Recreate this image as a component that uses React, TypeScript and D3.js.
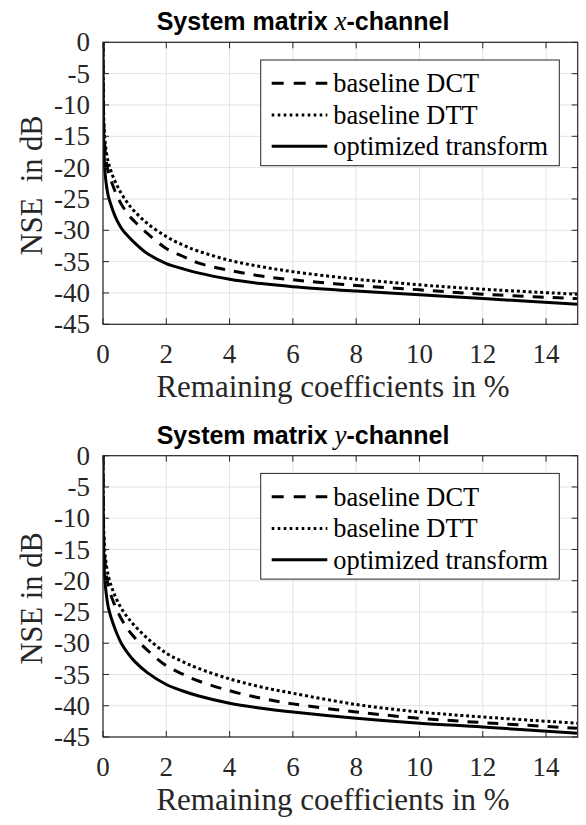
import React from "react";
import * as d3 from "d3";

// ---- data ----
const xTicks = [0, 2, 4, 6, 8, 10, 12, 14];
const yTicks = [0, -5, -10, -15, -20, -25, -30, -35, -40, -45];
const coeffPercent = [0, 0.01, 0.03, 0.06, 0.1, 0.17, 0.25, 0.33, 0.45, 0.6, 0.8, 1.0, 1.4, 2, 2.5, 3, 4, 5, 6, 8, 10, 12, 15];

const xChanDCT = [0, -9, -14, -16.8, -18.8, -20.8, -22.0, -23.1, -24.6, -26.0, -27.5, -28.6, -30.5, -32.9, -34.1, -35.2, -36.4, -37.3, -37.9, -38.8, -39.5, -40.2, -40.9];
const xChanDTT = [0, -8, -13, -15.5, -17.3, -19.2, -20.5, -21.6, -22.9, -24.3, -25.8, -27.0, -28.9, -31.0, -32.3, -33.3, -34.8, -35.8, -36.6, -37.8, -38.7, -39.4, -40.2];
const xChanOpt = [0, -11, -17, -20.5, -22.5, -24.6, -25.9, -27.1, -28.5, -29.8, -31.0, -32.0, -33.7, -35.3, -36.1, -36.8, -37.8, -38.5, -39.0, -39.7, -40.3, -40.9, -41.8];

const yChanDCT = [0, -9, -14, -16.8, -18.8, -20.9, -22.3, -23.4, -24.8, -26.3, -27.9, -29.1, -31.1, -33.6, -34.9, -36.0, -37.6, -38.8, -39.7, -41.0, -42.0, -42.7, -43.6];
const yChanDTT = [0, -8, -13, -15.5, -17.3, -19.3, -20.7, -21.8, -23.2, -24.6, -26.0, -27.2, -29.2, -31.6, -32.9, -34.0, -35.7, -37.0, -38.0, -39.8, -41.0, -41.8, -42.8];
const yChanOpt = [0, -11, -17, -20, -22, -24.3, -25.8, -27.0, -28.6, -30.2, -31.7, -32.9, -34.7, -36.6, -37.6, -38.4, -39.6, -40.4, -41.0, -42.0, -42.8, -43.4, -44.4];

const seriesNames = ["baseline DCT", "baseline DTT", "optimized transform"];
const panelTitles = ["x", "y"];
const yLabels = ["NSE  in dB", "NSE in dB"];
const xLabel = "Remaining coefficients in %";

// ---- styling ----
const W = 586;
const H = 825;
const LEFT = 103;
const RIGHT = 577.7;
const AXIS = "#262626";
const GRID = "#e3e3e3";
const SERIF = "Liberation Serif";
const SANS = "Liberation Sans";
const dashes = ["11 9", "3 2.8", ""];
const legendDashes = ["12 10", "2.6 3.4", ""];

type PanelProps = {
  top: number;
  bottom: number;
  title: string;
  ylabel: string;
  data: number[][];
  idx: number;
};

function Panel({ top, bottom, title, ylabel, data, idx }: PanelProps) {
  const x = d3.scaleLinear().domain([0, 15]).range([LEFT, RIGHT]);
  const y = d3.scaleLinear().domain([0, -45]).range([top, bottom]);
  const line = d3
    .line<[number, number]>()
    .x((d) => x(d[0]))
    .y((d) => y(d[1]))
    .curve(d3.curveCatmullRom.alpha(0.5));
  const clipId = `clip${idx}`;
  const tick = 6;
  const legL = 260.7;
  const legT = top + 17.7;
  const legW = 298.6;
  const legH = 105.7;
  const rowY = [23.3, 55, 86.3];
  return (
    <g>
      <defs>
        <clipPath id={clipId}>
          <rect x={LEFT} y={top} width={RIGHT - LEFT} height={bottom - top} />
        </clipPath>
      </defs>
      <rect x={LEFT} y={top} width={RIGHT - LEFT} height={bottom - top} fill="#fff" />
      {/* grid */}
      {xTicks.map((t) => (
        <line key={"gx" + t} x1={x(t)} x2={x(t)} y1={top} y2={bottom} stroke={GRID} strokeWidth={1} />
      ))}
      {yTicks.map((t) => (
        <line key={"gy" + t} x1={LEFT} x2={RIGHT} y1={y(t)} y2={y(t)} stroke={GRID} strokeWidth={1} />
      ))}
      {/* curves */}
      <g clipPath={`url(#${clipId})`}>
        {data.map((vals, i) => (
          <path
            key={"s" + i}
            d={line(coeffPercent.map((c, k) => [c, vals[k]] as [number, number])) || ""}
            fill="none"
            stroke="#000"
            strokeWidth={3}
            strokeDasharray={dashes[i] || undefined}
          />
        ))}
      </g>
      {/* box */}
      <rect x={LEFT} y={top} width={RIGHT - LEFT} height={bottom - top} fill="none" stroke={AXIS} strokeWidth={1.2} />
      {/* ticks */}
      {xTicks.map((t) => (
        <g key={"tx" + t}>
          <line x1={x(t)} x2={x(t)} y1={bottom} y2={bottom - tick} stroke={AXIS} strokeWidth={1} />
          <line x1={x(t)} x2={x(t)} y1={top} y2={top + tick} stroke={AXIS} strokeWidth={1} />
          <text x={x(t)} y={bottom + 39} textAnchor="middle" fontFamily={SERIF} fontSize={27} fill={AXIS}>
            {t}
          </text>
        </g>
      ))}
      {yTicks.map((t) => (
        <g key={"ty" + t}>
          <line x1={LEFT} x2={LEFT + tick} y1={y(t)} y2={y(t)} stroke={AXIS} strokeWidth={1} />
          <line x1={RIGHT} x2={RIGHT - tick} y1={y(t)} y2={y(t)} stroke={AXIS} strokeWidth={1} />
          <text x={90} y={y(t)} dy="0.34em" textAnchor="end" fontFamily={SERIF} fontSize={27} fill={AXIS}>
            {t === 0 ? "0" : "-" + Math.abs(t)}
          </text>
        </g>
      ))}
      {/* labels */}
      <text x={333} y={bottom + 73} textAnchor="middle" fontFamily={SERIF} fontSize={31} fill={AXIS}>
        {xLabel}
      </text>
      <text
        transform={`translate(42,${(top + bottom) / 2 + 2}) rotate(-90)`}
        textAnchor="middle"
        fontFamily={SERIF}
        fontSize={30.5}
        fill={AXIS}
        style={{ whiteSpace: "pre" }}
      >
        {ylabel}
      </text>
      <text x={303} y={top - 12} textAnchor="middle" fontFamily={SANS} fontWeight="bold" fontSize={25} fill="#000">
        System matrix{" "}
        <tspan fontFamily={SERIF} fontStyle="italic" fontWeight="normal" fontSize={27}>
          {title}
        </tspan>
        -channel
      </text>
      {/* legend */}
      <rect x={legL} y={legT} width={legW} height={legH} fill="#fff" stroke={AXIS} strokeWidth={1} />
      {seriesNames.map((name, i) => (
        <g key={"l" + i}>
          <line
            x1={271.7}
            x2={327.3}
            y1={legT + rowY[i]}
            y2={legT + rowY[i]}
            stroke="#000"
            strokeWidth={3}
            strokeDasharray={legendDashes[i] || undefined}
          />
          <text x={333.3} y={legT + rowY[i] + 9} fontFamily={SERIF} fontSize={26.4} fill="#000">
            {name}
          </text>
        </g>
      ))}
    </g>
  );
}

export default function App() {
  const panels = [
    { top: 42.3, bottom: 324.3, data: [xChanDCT, xChanDTT, xChanOpt] },
    { top: 455.7, bottom: 737, data: [yChanDCT, yChanDTT, yChanOpt] },
  ];
  return (
    <svg
      width={W}
      height={H}
      viewBox={`0 0 ${W} ${H}`}
      style={{ position: "absolute", left: 0, top: 0, background: "#fff" }}
    >
      <rect width={W} height={H} fill="#fff" />
      {panels.map((p, i) => (
        <Panel key={i} idx={i} top={p.top} bottom={p.bottom} title={panelTitles[i]} ylabel={yLabels[i]} data={p.data} />
      ))}
    </svg>
  );
}
